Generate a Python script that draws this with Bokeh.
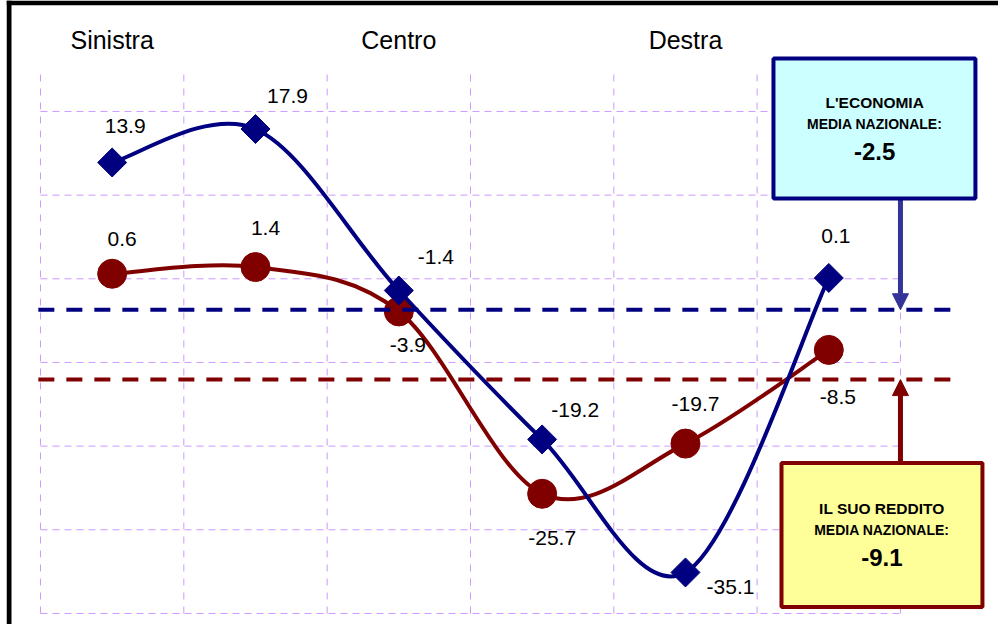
import numpy as np
from bokeh.plotting import figure
from bokeh.models import Range1d, ColumnDataSource, Arrow, NormalHead
from bokeh.core.properties import value
from bokeh.embed import file_html
from bokeh.resources import INLINE

# ---------------- data ----------------
positions = [0, 1, 2, 3, 4, 5]
header_labels = ["Sinistra", "Centro", "Destra"]
header_pos = [0, 2, 4]
economia = [13.9, 17.9, -1.4, -19.2, -35.1, 0.1]
reddito = [0.6, 1.4, -3.9, -25.7, -19.7, -8.5]
y_ticks = [20, 10, 0, -10, -20, -30, -40]
economia_media = -2.5
reddito_media = -9.1
# where the reference draws the two average lines
economia_line_y = -3.7
reddito_line_y = -12.05

# label offsets in pixels (placement only)
eco_dx = [13, 32, 37, 33, 45, 7]
eco_dy = [-36, -33, -33, -29, 15, -42]
red_dx = [10, 10, 9, 10, 10, 9]
red_dy = [-35, -39, 34, 44, -40, 47]

NAVY = "#000080"
MAROON = "#800000"
ARROW_BLUE = "#333399"
GRID = "#CC99FF"
FONT = "Liberation Sans"

X0, X1 = -0.7372, 6.184
Y0, Y1 = -41.32, 33.26
PX_X = 143.33   # pixels per x unit
PX_Y = 8.367    # pixels per y unit


def smooth_segments(xs, ys):
    xs = np.asarray(xs, float)
    ys = np.asarray(ys, float)
    px = np.concatenate([[xs[0]], xs, [xs[-1]]])
    py = np.concatenate([[ys[0]], ys, [ys[-1]]])
    n = len(xs)
    i = np.arange(n - 1)
    return dict(
        x0=xs[:-1], y0=ys[:-1], x1=xs[1:], y1=ys[1:],
        cx0=xs[i] + (px[i + 2] - px[i]) / 6.0,
        cy0=ys[i] + (py[i + 2] - py[i]) / 6.0,
        cx1=xs[i + 1] - (px[i + 3] - px[i + 1]) / 6.0,
        cy1=ys[i + 1] - (py[i + 3] - py[i + 1]) / 6.0,
    )


p = figure(width=998, height=624, output_backend="svg", toolbar_location=None,
           x_range=Range1d(X0, X1), y_range=Range1d(Y0, Y1),
           x_axis_location=None, y_axis_location=None,
           min_border_left=6, min_border_top=0, min_border_right=0, min_border_bottom=0,
           border_fill_color="white", background_fill_color="white",
           outline_line_color=None)
p.grid.visible = False

# black frame edges (left and top)
p.quad(left=[X0], right=[X0 + 5 / PX_X], top=[Y1], bottom=[Y0],
       fill_color="black", line_color=None)
p.quad(left=[X0], right=[X1], top=[Y1], bottom=[Y1 - 4.7 / PX_Y],
       fill_color="black", line_color=None)

# grid
vx = [x - 0.5 for x in positions] + [positions[-1] + 0.5]
p.segment(x0=vx, x1=vx, y0=[min(y_ticks)] * len(vx), y1=[max(y_ticks) + 5] * len(vx),
          line_color=GRID, line_width=1, line_dash="7 7")
p.segment(x0=[vx[0]] * len(y_ticks), x1=[vx[-1]] * len(y_ticks), y0=y_ticks, y1=y_ticks,
          line_color=GRID, line_width=1, line_dash="7 5")

# headers
p.text(x=header_pos, y=[28.5] * len(header_pos), text=header_labels,
       text_font=value(FONT), text_font_size=value("25px"), text_color="black",
       text_align="center", text_baseline="middle")

# curves
p.bezier(source=ColumnDataSource(smooth_segments(positions, reddito)),
         x0="x0", y0="y0", x1="x1", y1="y1", cx0="cx0", cy0="cy0", cx1="cx1", cy1="cy1",
         line_color=MAROON, line_width=4, line_cap="round")
p.scatter(x=positions, y=reddito, marker="circle", size=29,
          fill_color=MAROON, line_color=MAROON)
p.bezier(source=ColumnDataSource(smooth_segments(positions, economia)),
         x0="x0", y0="y0", x1="x1", y1="y1", cx0="cx0", cy0="cy0", cx1="cx1", cy1="cy1",
         line_color=NAVY, line_width=4, line_cap="round")
p.scatter(x=positions, y=economia, marker="square", angle=np.pi / 4, size=20.5,
          fill_color=NAVY, line_color=NAVY)

# average lines
p.segment(x0=[-0.515], x1=[5.87], y0=[economia_line_y], y1=[economia_line_y],
          line_color=NAVY, line_width=4, line_dash="16 12")
p.segment(x0=[-0.515], x1=[5.87], y0=[reddito_line_y], y1=[reddito_line_y],
          line_color=MAROON, line_width=4, line_dash="16 12")

# value labels
eco_src = ColumnDataSource(dict(x=positions, y=economia, t=[f"{v:.1f}" for v in economia],
                                dx=eco_dx, dy=eco_dy))
red_src = ColumnDataSource(dict(x=positions, y=reddito, t=[f"{v:.1f}" for v in reddito],
                                dx=red_dx, dy=red_dy))
for src in (eco_src, red_src):
    p.text(x="x", y="y", text="t", x_offset="dx", y_offset="dy", source=src,
           text_font=value(FONT), text_font_size=value("21px"), text_color="black",
           text_align="center", text_baseline="middle")

# arrows
p.add_layout(Arrow(end=NormalHead(size=16, fill_color=ARROW_BLUE, line_color=ARROW_BLUE),
                   x_start=5.5, y_start=9.6, x_end=5.5, y_end=economia_line_y,
                   line_color=ARROW_BLUE, line_width=5))
p.add_layout(Arrow(end=NormalHead(size=16, fill_color=MAROON, line_color=MAROON),
                   x_start=5.5, y_start=-22.0, x_end=5.5, y_end=reddito_line_y,
                   line_color=MAROON, line_width=5))

# callout boxes
p.quad(left=[4.614], right=[6.023], top=[26.33], bottom=[9.6],
       fill_color="#CCFFFF", line_color=NAVY, line_width=4, level="overlay")
p.quad(left=[4.670], right=[6.072], top=[-22.03], bottom=[-39.24],
       fill_color="#FFFF99", line_color=MAROON, line_width=4, level="overlay")

box_text = [
    (5.32, 21.07, "L'ECONOMIA", "15.5px"),
    (5.32, 18.44, "MEDIA NAZIONALE:", "14px"),
    (5.32, 15.2, f"{economia_media:.1f}", "24px"),
    (5.37, -27.45, "IL SUO REDDITO", "15.5px"),
    (5.37, -30.08, "MEDIA NAZIONALE:", "14px"),
    (5.37, -33.3, f"{reddito_media:.1f}", "24px"),
]
for bx, by, bt, fs in box_text:
    p.text(x=[bx], y=[by], text=[bt], text_font=value(FONT), text_font_size=value(fs),
           text_font_style="bold", text_color="black", text_align="center",
           text_baseline="middle", level="overlay")

open("out.html", "w").write(file_html(p, INLINE))
